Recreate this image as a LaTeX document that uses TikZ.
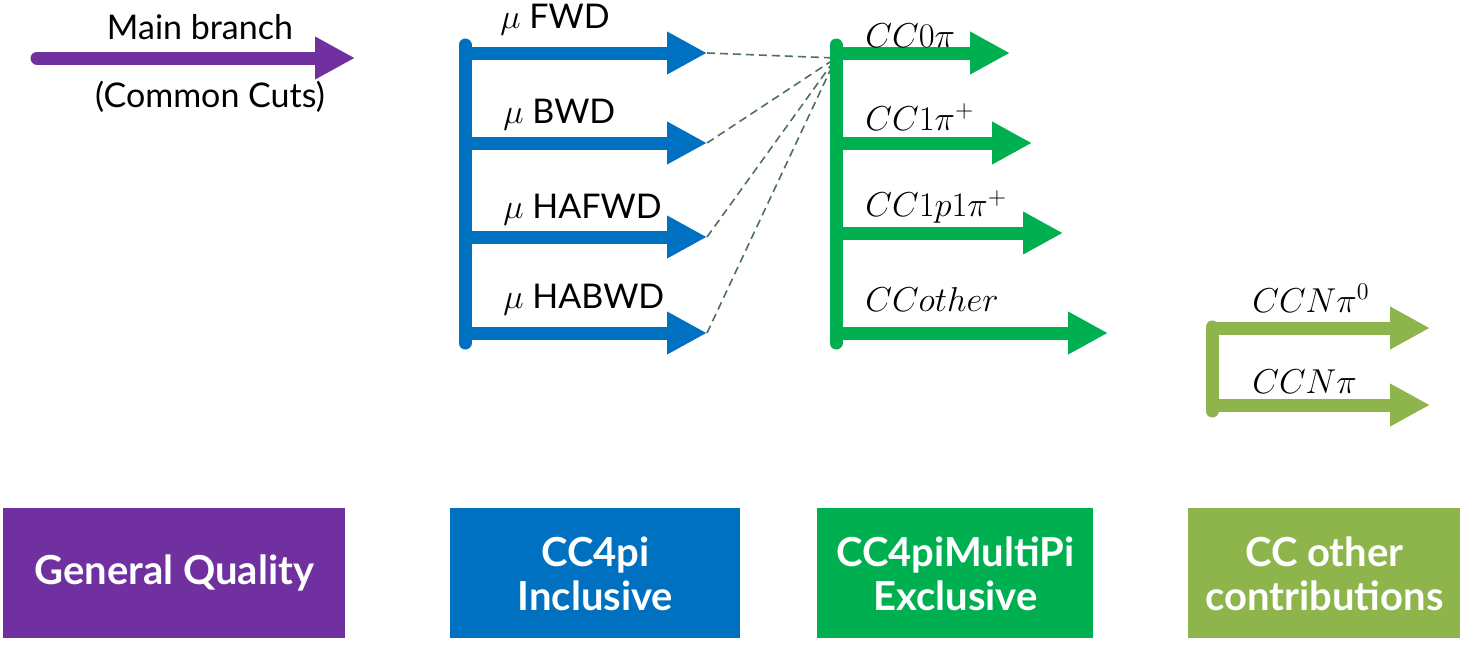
\documentclass[tikz,border=0pt]{standalone}
\usepackage{amsmath,amssymb}
\usepackage{fontspec}
\setmainfont{Lato}
\usetikzlibrary{arrows.meta}

\definecolor{gqpurple}{HTML}{7030A0}
\definecolor{incblue}{HTML}{0070C0}
\definecolor{excgreen}{HTML}{00B050}
\definecolor{othgreen}{HTML}{8DB54B}
\definecolor{linkgray}{HTML}{4F6F5F}

\begin{document}
\begin{tikzpicture}[x=0.5pt, y=-0.5pt,
    % styles
    branch/.style={line width=6.5pt, -{Triangle[length=20pt, width=20pt]}},
    trunk/.style={line width=6.5pt, line cap=round},
    link/.style={linkgray, line width=0.8pt, dash pattern=on 4pt off 2.5pt},
    lbl/.style={font=\fontsize{17}{20}\selectfont, inner sep=0pt, anchor=west},
    group/.style={minimum width=#1, minimum height=65pt, inner sep=0pt,
        text=white, align=center, anchor=north west,
        font=\bfseries\fontsize{20}{22}\selectfont}
]
    \useasboundingbox (0,0) rectangle (1460,644);

    % --- main branch ---
    \coordinate (m0) at (37,58);
    \coordinate (m1) at (355,58);
    \draw[gqpurple, branch, line cap=round] (m0) -- (m1);
    \node[lbl, anchor=center] (mtop) at (200,27) {Main branch};
    \node[lbl, anchor=center] (mbot) at (210,97) {(Common Cuts)};

    % --- CC4pi inclusive ---
    \coordinate (btop) at (465,45);
    \coordinate (bbot) at (465,343);
    \draw[incblue, trunk] (btop) -- (bbot);
    \foreach \y/\n in {53/1, 143/2, 237/3, 333/4} {
        \coordinate (bs\n) at (465,\y);
        \coordinate (bt\n) at (707,\y);
        \draw[incblue, branch] (bs\n) -- (bt\n);
    }
    \node[lbl] (lfwd)   at (500,20)  {$\mu$ FWD};
    \node[lbl] (lbwd)   at (503,115) {$\mu$ BWD};
    \node[lbl] (lhafwd) at (503,210) {$\mu$ HAFWD};
    \node[lbl] (lhabwd) at (503,300) {$\mu$ HABWD};

    % links to the exclusive branch
    \coordinate (hub) at (836,58);
    \foreach \n in {1,...,4}
        \draw[link] (bt\n) -- (hub);

    % --- CC4piMultiPi exclusive ---
    \coordinate (gtop) at (836,45);
    \coordinate (gbot) at (836,343);
    \draw[excgreen, trunk] (gtop) -- (gbot);
    \foreach \y/\x/\n in {53/1010/1, 143/1032/2, 233/1063/3, 333/1108/4} {
        \coordinate (gs\n) at (836,\y);
        \coordinate (gt\n) at (\x,\y);
        \draw[excgreen, branch] (gs\n) -- (gt\n);
    }
    \node[lbl] (lcc0)     at (865,36)  {$CC0\pi$};
    \node[lbl] (lcc1)     at (865,117) {$CC1\pi^+$};
    \node[lbl] (lcc1p)    at (865,207) {$CC1p1\pi^+$};
    \node[lbl] (lccother) at (865,299) {$CCother$};

    % --- CC other contributions ---
    \coordinate (otop) at (1212,327);
    \coordinate (obot) at (1212,411);
    \draw[othgreen, trunk] (otop) -- (obot);
    \foreach \y/\n in {328/1, 405/2} {
        \coordinate (os\n) at (1212,\y);
        \coordinate (ot\n) at (1430,\y);
        \draw[othgreen, branch] (os\n) -- (ot\n);
    }
    \node[lbl] (lccn0) at (1252,298) {$CCN\pi^0$};
    \node[lbl] (lccn)  at (1252,382) {$CCN\pi$};

    % --- group boxes ---
    \node[group=171pt, fill=gqpurple] (gq)  at (3,508)    {General Quality};
    \node[group=145pt, fill=incblue]  (inc) at (450,508)  {CC4pi\\Inclusive};
    \node[group=138pt, fill=excgreen] (exc) at (817,508)  {CC4piMultiPi\\Exclusive};
    \node[group=136pt, fill=othgreen] (oth) at (1188,508) {CC other\\contributions};
\end{tikzpicture}
\end{document}
